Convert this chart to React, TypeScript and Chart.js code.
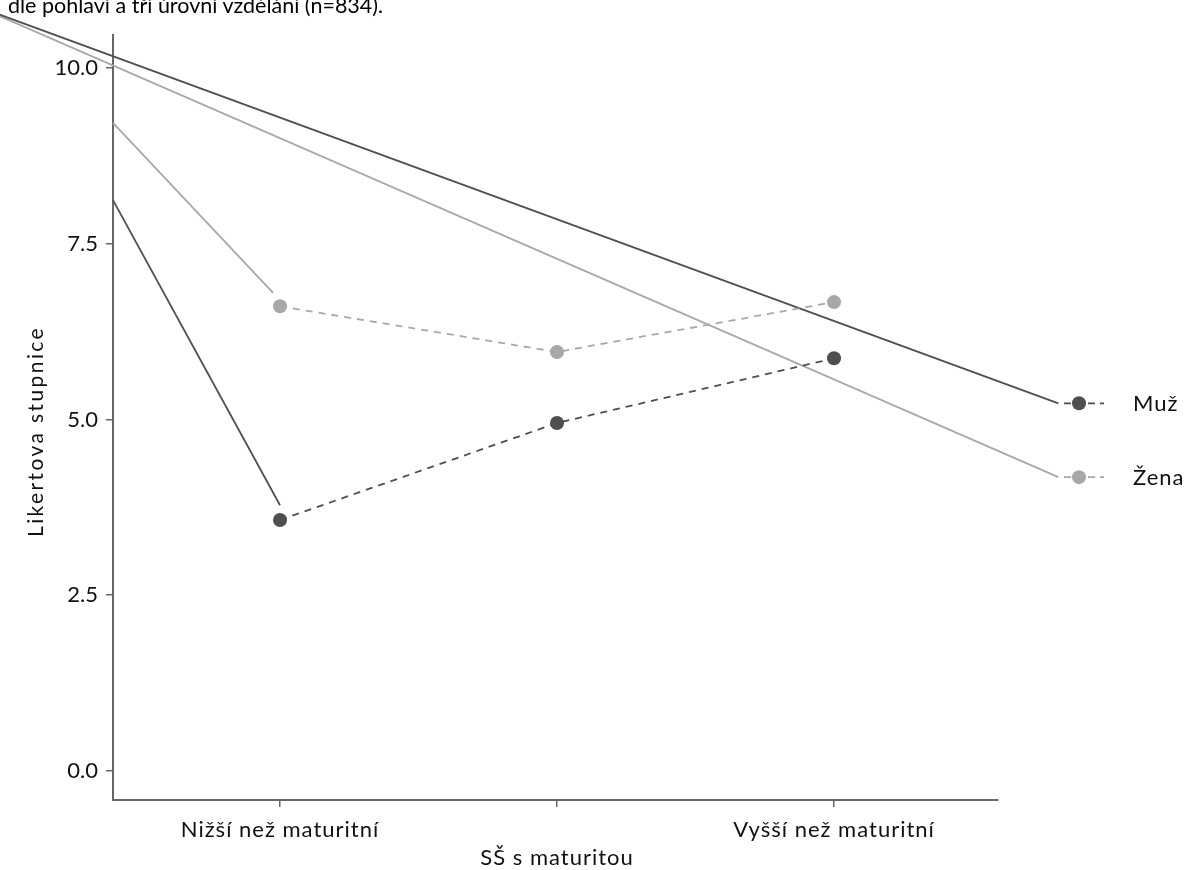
import React, { useEffect, useRef } from "react";
import { Chart, registerables } from "chart.js";

Chart.register(...registerables);

const categories = ["Nižší než maturitní", "SŠ s maturitou", "Vyšší než maturitní"];
const seriesNames = ["Muž", "Žena"];
const muzValues = [3.57, 4.95, 5.87];
const zenaValues = [6.61, 5.96, 6.67];
const yTickValues = [0, 2.5, 5, 7.5, 10];
const legendLevels = [5.23, 4.18];
// solid connector lines: [x (category units), y]
const muzLongLine = [[-1.02, 10.77], [2.81, 5.23]];
const zenaLongLine = [[-1.02, 10.75], [2.81, 4.18]];
const muzShortLine = [[-0.603, 8.12], [0, 3.78]];
const zenaShortLine = [[-0.603, 9.22], [-0.025, 6.8]];
const titleText = "dle pohlaví a tří úrovní vzdělání (n=834).";
const yAxisTitle = "Likertova stupnice";

const DARK = "#4f4f4f";
const LIGHT = "#a8a8a8";
const FONT = "Lato, 'Open Sans', sans-serif";

const toXY = (arr: number[][]) => arr.map(([x, y]) => ({ x, y }));
const seriesXY = (vals: number[]) => vals.map((y, i) => ({ x: i, y }));

function patchDraw(s: any, name: string, spacing: string, dy = 0) {
  const flag = "__patched_" + name;
  if (s[flag]) return;
  s[flag] = true;
  const orig = s[name].bind(s);
  s[name] = (...args: any[]) => {
    const ctx = s.ctx;
    ctx.save();
    ctx.translate(0, dy);
    (ctx as any).letterSpacing = spacing;
    orig(...args);
    ctx.restore();
  };
}

const legendPlugin = {
  id: "sideLegend",
  afterDatasetsDraw(chart: any) {
    const { ctx, chartArea, scales } = chart;
    const colors = [DARK, LIGHT];
    seriesNames.forEach((name, i) => {
      const y = scales.y.getPixelForValue(legendLevels[i]);
      const mx = chartArea.right + 81;
      ctx.save();
      ctx.strokeStyle = colors[i];
      ctx.lineWidth = 1.8;
      ctx.setLineDash([7, 5]);
      ctx.beginPath();
      ctx.moveTo(chartArea.right + 66, y);
      ctx.lineTo(chartArea.right + 106, y);
      ctx.stroke();
      ctx.setLineDash([]);
      ctx.fillStyle = colors[i];
      ctx.beginPath();
      ctx.arc(mx, y, 7, 0, Math.PI * 2);
      ctx.fill();
      ctx.fillStyle = "#111";
      ctx.font = `22px ${FONT}`;
      (ctx as any).letterSpacing = "1px";
      ctx.textBaseline = "middle";
      ctx.textAlign = "left";
      ctx.fillText(name, chartArea.right + 135, y + 1);
      ctx.restore();
    });
  },
};

export default function App() {
  const ref = useRef<HTMLCanvasElement | null>(null);
  useEffect(() => {
    if (!ref.current) return;
    const solid = (pts: number[][], color: string) =>
      ({
        data: toXY(pts),
        borderColor: color,
        borderWidth: 1.8,
        pointRadius: 0,
        clip: false,
      } as any);
    const chart = new Chart(ref.current, {
      type: "line",
      data: {
        datasets: [
          {
            label: seriesNames[0],
            data: seriesXY(muzValues),
            borderColor: DARK,
            backgroundColor: DARK,
            borderWidth: 1.8,
            borderDash: [7, 6],
            pointRadius: 7,
            pointBorderWidth: 0,
            pointBackgroundColor: DARK,
            clip: false,
          } as any,
          {
            label: seriesNames[1],
            data: seriesXY(zenaValues),
            borderColor: LIGHT,
            backgroundColor: LIGHT,
            borderWidth: 1.8,
            borderDash: [7, 6],
            pointRadius: 7,
            pointBorderWidth: 0,
            pointBackgroundColor: LIGHT,
            clip: false,
          } as any,
          solid(muzLongLine, DARK),
          solid(zenaLongLine, LIGHT),
          solid(muzShortLine, DARK),
          solid(zenaShortLine, LIGHT),
        ],
      },
      options: {
        responsive: false,
        animation: false,
        devicePixelRatio: 1,
        layout: { padding: { top: 35, right: 186, left: 0, bottom: 0 } },
        plugins: { legend: { display: false }, tooltip: { enabled: false } },
        scales: {
          x: {
            type: "linear",
            min: -0.603,
            max: 2.592,
            afterBuildTicks: (s: any) => {
              s.ticks = categories.map((_, i) => ({ value: i }));
            },
            afterFit: (s: any) => {
              s.height = 70;
              patchDraw(s, "drawLabels", "1px");
            },
            grid: {
              display: true,
              drawOnChartArea: false,
              drawTicks: true,
              tickLength: 7,
              color: "#666",
              lineWidth: 1.5,
            },
            border: { display: true, color: "#666", width: 2 },
            ticks: {
              autoSkip: false,
              maxRotation: 0,
              padding: 9,
              color: "#111",
              font: { family: FONT, size: 22, lineHeight: 1.27 },
              callback: (v: any) => {
                const i = Math.round(Number(v));
                const t = categories[i];
                return i === 1 ? ["", t] : t;
              },
            },
          },
          y: {
            type: "linear",
            min: -0.4125,
            max: 10.469,
            afterBuildTicks: (s: any) => {
              s.ticks = yTickValues.map((v) => ({ value: v }));
            },
            afterFit: (s: any) => {
              s.width = 113;
              patchDraw(s, "drawTitle", "2.4px", 14);
            },
            grid: {
              display: true,
              drawOnChartArea: false,
              drawTicks: true,
              tickLength: 7,
              color: "#666",
              lineWidth: 1.5,
            },
            border: { display: true, color: "#666", width: 2 },
            title: {
              display: true,
              text: yAxisTitle,
              color: "#111",
              font: { family: FONT, size: 21 },
              padding: { top: 24, bottom: 0 },
            },
            ticks: {
              padding: 8,
              color: "#111",
              font: { family: FONT, size: 22 },
              callback: (v: any) => Number(v).toFixed(1),
            },
          },
        },
      },
      plugins: [legendPlugin],
    });
    return () => chart.destroy();
  }, []);

  return (
    <div style={{ position: "fixed", left: 0, top: 0, width: 1184, height: 870, background: "#fff", overflow: "hidden" }}>
      <div
        style={{
          position: "absolute",
          left: 8,
          top: -5,
          fontFamily: FONT,
          fontSize: 21.5,
          lineHeight: "20px",
          color: "#000",
          whiteSpace: "nowrap",
        }}
      >
        {titleText}
      </div>
      <canvas ref={ref} width={1184} height={870} style={{ display: "block" }} />
    </div>
  );
}
